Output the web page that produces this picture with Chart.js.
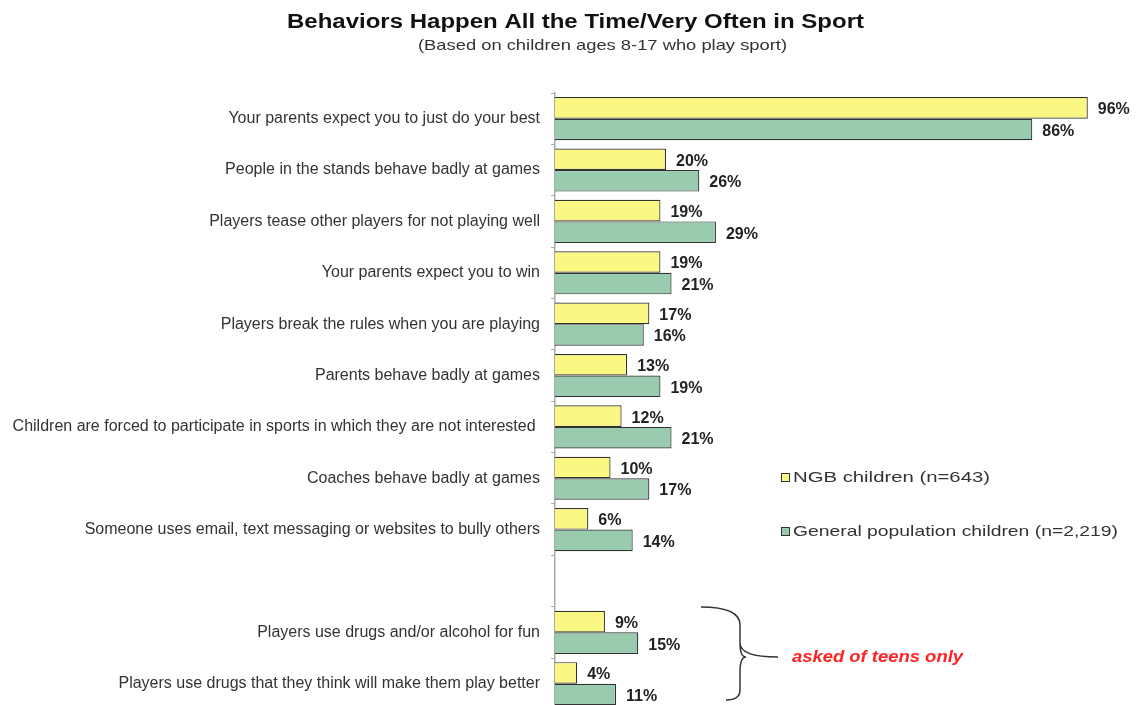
<!DOCTYPE html>
<html>
<head>
<meta charset="utf-8">
<script src="https://cdn.jsdelivr.net/npm/chart.js@4"></script>
<style>
  html, body { margin: 0; padding: 0; background: #fff; overflow: hidden; }
</style>
</head>
<body>
<canvas id="myChart1" width="1139" height="730"></canvas>
<script>
// data ========================================================
const categories = [
  "Your parents expect you to just do your best",
  "People in the stands behave badly at games",
  "Players tease other players for not playing well",
  "Your parents expect you to win",
  "Players break the rules when you are playing",
  "Parents behave badly at games",
  "Children are forced to participate in sports in which they are not interested ",
  "Coaches behave badly at games",
  "Someone uses email, text messaging or websites to bully others",
  "",
  "Players use drugs and/or alcohol for fun",
  "Players use drugs that they think will make them play better"
];
const ngbValues = [96, 20, 19, 19, 17, 13, 12, 10, 6, null, 9, 4];
const genPopValues = [86, 26, 29, 21, 16, 19, 21, 17, 14, null, 15, 11];
const seriesNames = ["NGB children (n=643)", "General population children (n=2,219)"];

const YELLOW = "#FBF783";
const GREEN = "#99CBAE";
const FONT = "Arial, 'Liberation Sans', sans-serif";

// text squeezed/stretched sideways to a given width (the original is a stretched image)
function fitText(ctx, text, x, y, width) {
  const w = ctx.measureText(text).width;
  ctx.save();
  ctx.translate(x, y);
  ctx.scale(width / w, 1);
  ctx.textAlign = "left";
  ctx.fillText(text, 0, 0);
  ctx.restore();
}

// value labels, legend, title, brace ==========================
const extras = {
  id: "extras",
  afterDatasetsDraw(chart) {
    const ctx = chart.ctx;
    ctx.save();
    ctx.textBaseline = "middle";

    // value labels
    ctx.font = "bold 16px " + FONT;
    ctx.fillStyle = "#222";
    ctx.textAlign = "left";
    chart.data.datasets.forEach((ds, di) => {
      chart.getDatasetMeta(di).data.forEach((bar, i) => {
        const v = ds.data[i];
        if (v == null) return;
        ctx.fillText(v + "%", bar.x + 10, bar.y + 2);
      });
    });

    // title
    ctx.font = "bold 20px " + FONT;
    ctx.fillStyle = "#111";
    fitText(ctx, "Behaviors Happen All the Time/Very Often in Sport", 287, 22, 577);
    ctx.font = "15px " + FONT;
    ctx.fillStyle = "#333";
    fitText(ctx, "(Based on children ages 8-17 who play sport)", 418, 46, 369);

    // legend
    const colors = [YELLOW, GREEN];
    const legendW = [197, 325];
    ctx.font = "15px " + FONT;
    [478, 532].forEach((y, k) => {
      ctx.fillStyle = colors[k];
      ctx.fillRect(781, y - 5, 9, 9);
      ctx.strokeStyle = "#333";
      ctx.lineWidth = 1;
      ctx.strokeRect(781.5, y - 4.5, 8, 8);
      ctx.fillStyle = "#333";
      fitText(ctx, seriesNames[k], 793, y, legendW[k]);
    });

    // brace for teen-only questions
    ctx.strokeStyle = "#333";
    ctx.lineWidth = 1.5;
    ctx.beginPath();
    ctx.moveTo(701, 607);
    ctx.quadraticCurveTo(740, 607, 740, 625);
    ctx.lineTo(740, 643);
    ctx.quadraticCurveTo(740, 657, 778, 657);
    ctx.moveTo(740, 643);
    ctx.quadraticCurveTo(740, 657, 746, 657);
    ctx.quadraticCurveTo(740, 657, 740, 672);
    ctx.lineTo(740, 690);
    ctx.quadraticCurveTo(740, 700, 726, 700);
    ctx.stroke();

    ctx.font = "italic bold 16px " + FONT;
    ctx.fillStyle = "#FF2222";
    fitText(ctx, "asked of teens only", 792, 658, 171);
    ctx.restore();
  }
};

const data = {
  labels: categories,
  datasets: [
    {
      label: seriesNames[0],
      data: ngbValues,
      backgroundColor: YELLOW,
      borderColor: "#333",
      borderWidth: 1.2,
      barPercentage: 1,
      categoryPercentage: 0.84
    },
    {
      label: seriesNames[1],
      data: genPopValues,
      backgroundColor: GREEN,
      borderColor: "#333",
      borderWidth: 1.2,
      barPercentage: 1,
      categoryPercentage: 0.84
    }
  ]
};

const config = {
  type: "bar",
  data: data,
  plugins: [extras],
  options: {
    indexAxis: "y",
    responsive: false,
    animation: false,
    layout: { padding: { top: 93, right: 29, bottom: 1, left: 0 } },
    scales: {
      x: {
        min: 0,
        max: 100,
        display: false
      },
      y: {
        afterFit: (scale) => { scale.width = 555; },
        border: { display: true, color: "#aaa", width: 1.5 },
        grid: {
          offset: true,
          drawOnChartArea: false,
          drawTicks: true,
          tickLength: 4,
          color: "#aaa"
        },
        ticks: {
          padding: 11,
          color: "#333",
          font: { size: 16, family: FONT },
          autoSkip: false
        }
      }
    },
    plugins: {
      legend: { display: false },
      tooltip: { enabled: false }
    }
  }
};

const myChart = new Chart(document.getElementById("myChart1"), config);
</script>
</body>
</html>
